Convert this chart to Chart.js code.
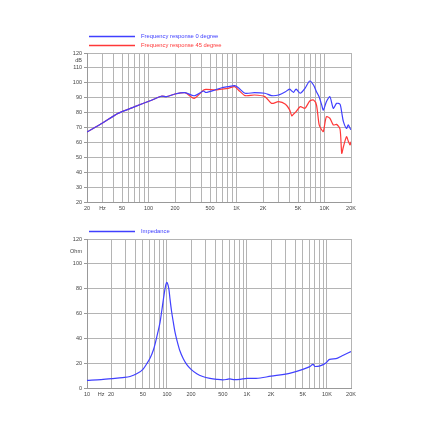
<!DOCTYPE html>
<html><head><meta charset="utf-8">
<script src="https://cdn.jsdelivr.net/npm/chart.js@4/dist/chart.umd.min.js"></script>
<style>
html,body{margin:0;padding:0;background:#fff;}
#wrap{position:relative;width:430px;height:430px;}
canvas{position:absolute;left:0;}
</style></head><body>
<div id="wrap">
<canvas id="fr" width="430" height="215" style="top:0"></canvas>
<canvas id="imp" width="430" height="215" style="top:215px"></canvas>
</div>
<script>
// frequency response (dB)
const frFreq = [20,30,45,70,110,140,160,200,260,330,420,450,570,680,800,950,1050,1250,1600,2100,2500,3000,3600,4000,4250,4450,4750,5300,6000,6800,7500,8100,8700,9300,9700,10500,11500,12600,13700,15000,15700,16400,17800,18600,19500,20000];
const fr0 = [67,73,79.5,84,88.5,91,90.7,92.5,93.4,91.3,94.5,93.5,95.2,96.7,97.4,98.1,96.7,93,93.4,93,91.4,91.8,94,95.8,94.5,93.6,95.8,93,96.3,101.2,98.5,94,90.5,85,81.7,87.3,90.7,82.9,86.2,85.6,80,73.9,69.4,71.7,69.5,68.5];
const fr45 = [67,73,79.5,84,88.5,91,90.7,92.5,93.4,89.6,95,95.6,95.2,95.8,96.3,97.4,95.2,91.4,91.8,90.7,86.2,87.3,85.6,82,77.9,79,80.6,84,82.9,87.8,88.5,85.1,71.7,68.3,67.2,77.2,76.2,71.7,72.1,69,52.7,57.1,63.8,61,58.3,60.5];

// impedance (Ohm)
const impFreq = [10,15,21,28,34.5,41.8,50,55.8,62,67.6,72,77.9,82,86,90,94,97,100,103,106,109,114,120,126,135,145,160,176,200,236,280,345,420,500,560,610,700,820,1000,1300,2000,3400,5000,6100,6700,7100,8200,9800,10800,13000,15300,20000];
const impOhm = [6.2,6.8,7.6,8.4,9.3,11.5,15,19.5,24.5,30.6,37,46.5,53,62,71,79,83.5,85,83,79,72,62,53,45,37,30,23.5,19,15,11.5,9.3,7.8,7,6.6,6.9,7.3,6.7,7,7.8,7.8,9.5,11.8,15,17.2,19.1,17.3,17.8,20.4,23.1,23.6,25.8,29.3];

// axis ticks
const frGrid = [20,30,40,50,60,70,80,90,100,200,300,400,500,600,700,800,900,1000,2000,3000,4000,5000,6000,7000,8000,9000,10000,20000];
const frLabels = {20:"20",30:"Hz",50:"50",100:"100",200:"200",500:"500",1000:"1K",2000:"2K",5000:"5K",10000:"10K",20000:"20K"};
const impGrid = [10,15,20,30,40,50,60,70,80,90,100,200,300,400,500,600,700,800,900,1000,2000,3000,4000,5000,6000,7000,8000,9000,10000,20000];
const impLabels = {10:"10",15:"Hz",20:"20",50:"50",100:"100",200:"200",500:"500",1000:"1K",2000:"2K",5000:"5K",10000:"10K",20000:"20K"};
const dbTicks = [20,30,40,50,60,70,80,90,100,110,115,120];
const ohmTicks = [0,20,40,60,80,100,110,120];

const BLUE = "#4040ff", RED = "#ff3838", GRID = "#b4b4b4", TXT = "#444";
const FONT = {family:"'Liberation Sans', Arial, sans-serif", size:5.5};
const NONE = "rgba(0,0,0,0)";

const lineLegend = {
  id: "lineLegend",
  afterDraw(chart, args, o){
    const ctx = chart.ctx;
    ctx.save();
    ctx.font = "5.8px 'Liberation Sans', Arial, sans-serif";
    ctx.textBaseline = "middle";
    chart.data.datasets.forEach((ds, i) => {
      const y = o.y + i*o.gap;
      ctx.strokeStyle = ds.borderColor;
      ctx.lineWidth = 1.3;
      ctx.beginPath(); ctx.moveTo(o.x, y); ctx.lineTo(o.x + o.len, y); ctx.stroke();
      ctx.fillStyle = ds.borderColor;
      ctx.fillText(ds.label, o.x + o.len + 6, y);
    });
    ctx.restore();
  }
};

function pts(xs, ys){ return xs.map((x,i) => ({x, y: ys[i]})); }

function makeChart(id, datasets, xMin, xMax, grid, labels, noGrid, yMin, yMax, yTicks, unitTick, unitText, padTop, xH, legendY){
  return new Chart(document.getElementById(id), {
    type: "line",
    data: {datasets},
    plugins: [lineLegend],
    options: {
      responsive: false, animation: false, devicePixelRatio: 1,
      layout: {padding: {left:0, right:79, top:padTop, bottom:0}},
      elements: {point: {radius:0}},
      plugins: {legend:{display:false}, tooltip:{enabled:false},
        lineLegend: {x:89, len:46, y:legendY, gap:9}},
      scales: {
        x: {
          type: "logarithmic", min: xMin, max: xMax,
          afterBuildTicks: s => { s.ticks = grid.map(v => ({value:v})); },
          afterFit: s => { s.height = xH; },
          grid: {color: c => (c.tick && c.tick.value===noGrid) ? NONE : GRID, lineWidth:1, drawTicks:false},
          border: {color:"#999"},
          ticks: {autoSkip:false, maxRotation:0, padding:3, color:TXT, font:FONT,
            callback: v => labels[v] || ""}
        },
        y: {
          min: yMin, max: yMax,
          afterBuildTicks: s => { s.ticks = yTicks.map(v => ({value:v})); },
          afterFit: s => { s.width = 87; },
          grid: {color: c => (c.tick && c.tick.value===unitTick) ? NONE : GRID, lineWidth:1,
            tickLength:3, tickColor: c => (c.tick && c.tick.value===unitTick) ? NONE : "#999"},
          border: {color:"#999"},
          ticks: {autoSkip:false, padding:2, color:TXT, font:FONT,
            callback: v => v===unitTick ? unitText : String(v)}
        }
      }
    }
  });
}

makeChart("fr", [
  {label:"Frequency response 0 degree", data:pts(frFreq, fr0), borderColor:BLUE, borderWidth:1.2, tension:0.25},
  {label:"Frequency response 45 degree", data:pts(frFreq, fr45), borderColor:RED, borderWidth:1.2, tension:0.25}
], 20, 20000, frGrid, frLabels, null, 20, 120, dbTicks, 115, "dB", 53, 13, 36.5);

makeChart("imp", [
  {label:"Impedance", data:pts(impFreq, impOhm), borderColor:BLUE, borderWidth:1.2, cubicInterpolationMode:"monotone"}
], 10, 20000, impGrid, impLabels, 15, 0, 120, ohmTicks, 110, "Ohm", 24, 42, 16.5);
</script>
</body></html>
